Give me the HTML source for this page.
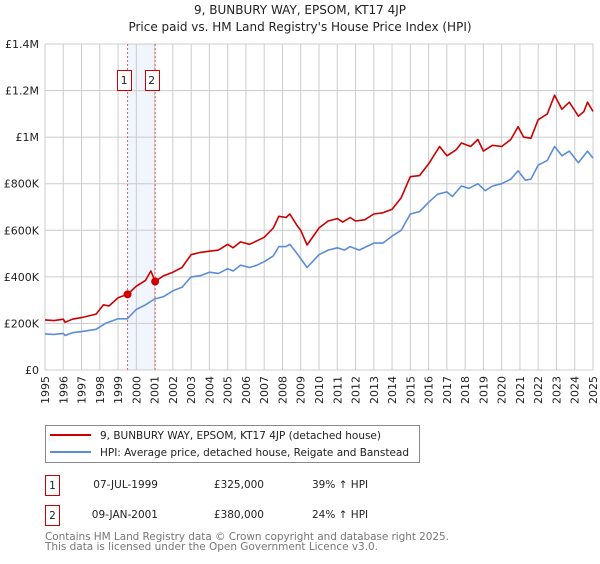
<!DOCTYPE html>
<html><head><meta charset="utf-8">
<style>
body{margin:0;background:#fff;font-family:"DejaVu Sans","Liberation Sans",sans-serif;}
svg text{font-family:"DejaVu Sans","Liberation Sans",sans-serif;}
</style></head>
<body>
<svg id="c" width="600" height="560" viewBox="0 0 600 560">
<text x="300" y="14" text-anchor="middle" font-size="12" fill="#222">9, BUNBURY WAY, EPSOM, KT17 4JP</text>
<text x="300" y="31" text-anchor="middle" font-size="12" fill="#222">Price paid vs. HM Land Registry's House Price Index (HPI)</text>
<g id="plot"></g>
<g>
<rect x="45.5" y="425.5" width="374" height="37" fill="#fff" stroke="#888"/>
<line x1="50" y1="435" x2="91" y2="435" stroke="#cc0000" stroke-width="2"/>
<text x="100" y="439" font-size="10.5" fill="#222" textLength="281">9, BUNBURY WAY, EPSOM, KT17 4JP (detached house)</text>
<line x1="50" y1="452" x2="91" y2="452" stroke="#5b8ed6" stroke-width="2"/>
<text x="100" y="456" font-size="10.5" fill="#222" textLength="309">HPI: Average price, detached house, Reigate and Banstead</text>
</g>
<g font-size="10.5" fill="#222">
<rect x="45.5" y="475.5" width="14" height="20" fill="#fff" stroke="#cc0000"/>
<text x="52.5" y="489" text-anchor="middle">1</text>
<text x="158" y="488" text-anchor="end">07-JUL-1999</text>
<text x="264" y="488" text-anchor="end">£325,000</text>
<text x="312" y="488">39% ↑ HPI</text>
<rect x="45.5" y="505.5" width="14" height="20" fill="#fff" stroke="#cc0000"/>
<text x="52.5" y="519" text-anchor="middle">2</text>
<text x="158" y="518" text-anchor="end">09-JAN-2001</text>
<text x="264" y="518" text-anchor="end">£380,000</text>
<text x="312" y="518">24% ↑ HPI</text>
</g>
<text x="45" y="540" font-size="10.5" fill="#777" textLength="404">Contains HM Land Registry data © Crown copyright and database right 2025.</text>
<text x="45" y="550" font-size="10.5" fill="#777" textLength="333">This data is licensed under the Open Government Licence v3.0.</text>
</svg>
<script>
const redYears=[1995,1995.5,1996,1996.1,1996.5,1997,1997.8,1998.2,1998.5,1999,1999.52,2000,2000.5,2000.8,2001.03,2001.5,2002,2002.5,2003,2003.5,2004,2004.5,2005,2005.3,2005.7,2006.2,2006.6,2007,2007.5,2007.8,2008.2,2008.4,2008.8,2009,2009.35,2010,2010.5,2011,2011.3,2011.7,2012,2012.5,2013,2013.5,2014,2014.5,2015,2015.5,2016,2016.6,2017,2017.5,2017.8,2018.3,2018.7,2019,2019.5,2020,2020.5,2020.9,2021.2,2021.6,2022,2022.5,2022.9,2023.3,2023.7,2024.2,2024.5,2024.7,2025];
const redValues=[215,212,218,205,218,225,240,280,275,310,325,360,385,425,380,405,420,440,495,505,510,515,540,525,550,540,555,570,610,660,655,670,620,600,537,610,640,650,635,655,640,645,670,675,690,740,830,835,885,960,920,945,975,960,990,940,965,960,990,1045,1000,995,1075,1100,1180,1120,1150,1090,1110,1150,1110];
const hpiYears=[1995,1995.5,1996,1996.1,1996.5,1997,1997.8,1998.3,1999,1999.5,2000,2000.5,2001,2001.5,2002,2002.5,2003,2003.5,2004,2004.5,2005,2005.3,2005.7,2006.2,2006.6,2007,2007.5,2007.8,2008.2,2008.4,2008.8,2009.35,2010,2010.5,2011,2011.4,2011.7,2012.2,2012.6,2013,2013.5,2014,2014.5,2015,2015.5,2016,2016.5,2017,2017.3,2017.8,2018.2,2018.7,2019.1,2019.5,2020,2020.5,2020.9,2021.3,2021.6,2022,2022.5,2022.9,2023.3,2023.7,2024.2,2024.7,2025];
const hpiValues=[155,153,157,148,160,165,175,200,220,220,260,280,305,315,340,355,400,405,420,415,435,425,450,440,450,465,490,530,530,540,500,440,495,515,525,515,530,515,530,545,545,575,600,670,680,720,755,765,745,790,780,800,770,790,800,820,855,815,820,880,900,960,920,940,890,940,910];
const saleYears=[1999.52,2001.03];
const saleValues=[325,380];
const saleLabels=["1","2"];
const yTicks=[0,200,400,600,800,1000,1200,1400];
const yTickLabels=["£0","£200K","£400K","£600K","£800K","£1M","£1.2M","£1.4M"];
const NS="http://www.w3.org/2000/svg";
const x0=45,x1=593,y0=370,y1=44;
const xs=y=>x0+(y-1995)/(2025-1995)*(x1-x0);
const ys=v=>y0-v/1400*(y0-y1);
const plot=document.getElementById('plot');
function mk(t,a,p){const e=document.createElementNS(NS,t);for(const k in a)e.setAttribute(k,a[k]);(p||plot).appendChild(e);return e;}
const band=mk('rect',{x:xs(saleYears[0]),y:y1,width:xs(saleYears[1])-xs(saleYears[0]),height:y0-y1,fill:'#eef3fc',opacity:0.8});


for(let yr=1995;yr<=2025;yr++){
  const g=mk('line',{x1:xs(yr),x2:xs(yr),y1:y1,y2:y0,stroke:'#ccc','stroke-width':1});
  
  
  const t=mk('text',{x:0,y:0,'font-size':11,fill:'#222','text-anchor':'end',transform:`translate(${xs(yr)+4},${y0+6}) rotate(-90)`});
  t.textContent=yr;
  
  
}
yTicks.forEach((v,i)=>{
  const g=mk('line',{x1:x0,x2:x1,y1:ys(v),y2:ys(v),stroke:'#ccc','stroke-width':1});
  
  
  const t=mk('text',{x:x0-6,y:ys(v)+4,'font-size':11,fill:'#222','text-anchor':'end'});
  t.textContent=yTickLabels[i];
  
  
});
saleYears.forEach((yr,i)=>{
  const l=mk('line',{x1:xs(yr),x2:xs(yr),y1:y1,y2:y0,stroke:'#e06060','stroke-width':1,'stroke-dasharray':'2,2'});
  
  
  const r=mk('rect',{x:Math.round(xs(yr)-10.5)+0.5,y:70.5,width:14,height:20,fill:'#fff',stroke:'#cc0000'});
  
  
  const t=mk('text',{x:xs(yr)-3.5,y:84,'font-size':11,fill:'#222','text-anchor':'middle'});
  t.textContent=saleLabels[i];
  
  
});
function line(xsArr,vs,col,name){
  const d=xsArr.map((y,i)=>(i?'L':'M')+xs(y).toFixed(1)+','+ys(vs[i]).toFixed(1)).join('');
  const p=mk('path',{d:d,fill:'none',stroke:col,'stroke-width':1.6,'stroke-linejoin':'round'});
  
  
}
line(hpiYears,hpiValues,'#5b8ed6','hpi-line');
line(redYears,redValues,'#cc0000','property-price-line');
saleYears.forEach((yr,i)=>{
  const c=mk('circle',{cx:xs(yr),cy:ys(saleValues[i]),r:4,fill:'#cc0000'});
  
  
});
</script>
</body></html>
